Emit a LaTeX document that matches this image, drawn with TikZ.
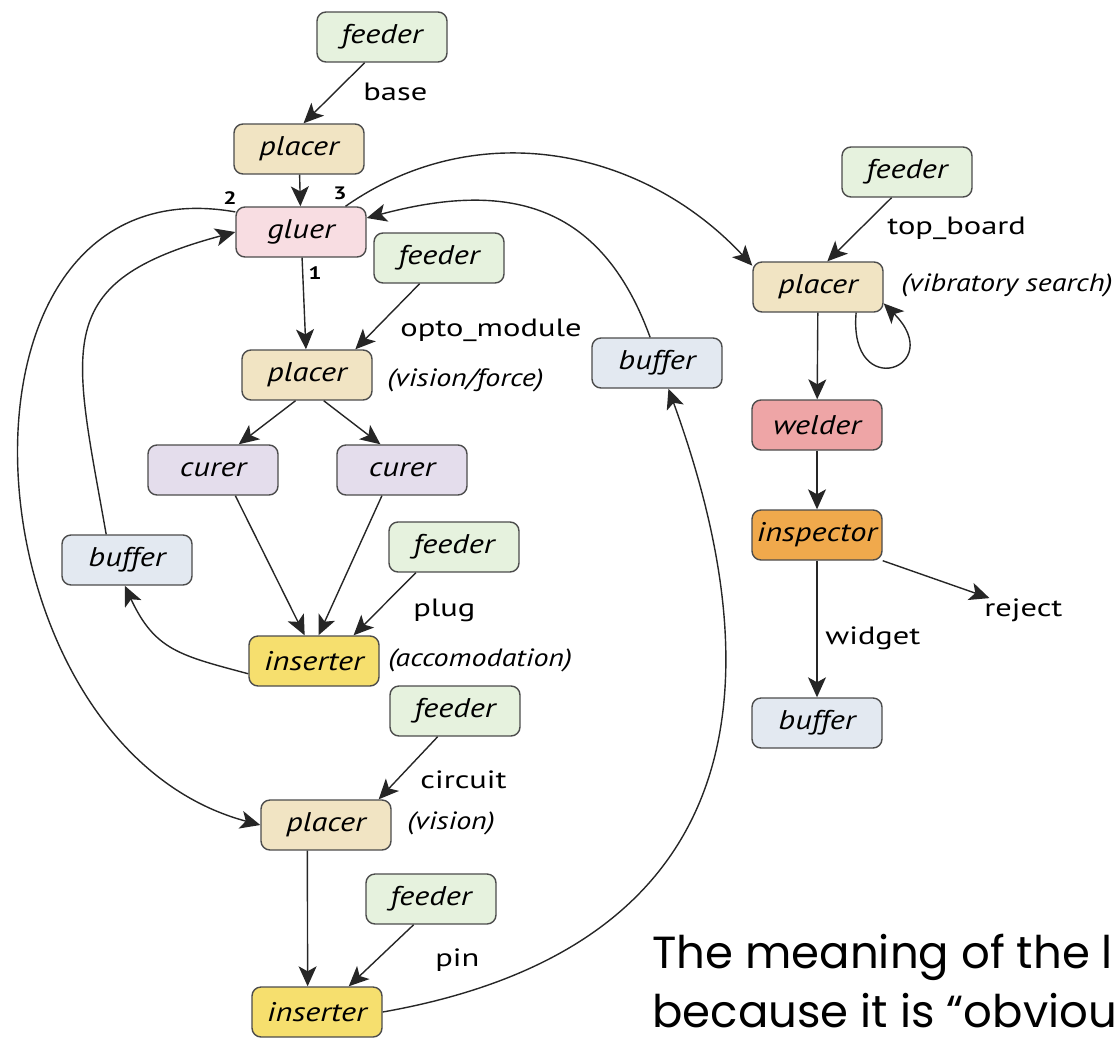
\documentclass[tikz,border=0pt]{standalone}
\usepackage{fontspec}
\setmainfont{PT Sans}[FakeStretch=1.3, ItalicFeatures={FakeStretch=1.2}]
\newfontfamily\notefont{Poppins}
\usetikzlibrary{arrows.meta}
\definecolor{feedc}{HTML}{E6F2DE}
\definecolor{placec}{HTML}{F1E4C3}
\definecolor{gluec}{HTML}{F8DDE2}
\definecolor{curec}{HTML}{E4DDEC}
\definecolor{bufc}{HTML}{E3E9F1}
\definecolor{insc}{HTML}{F6DF6E}
\definecolor{weldc}{HTML}{EEA5A6}
\definecolor{inspc}{HTML}{F0A94C}

\begin{document}
\begin{tikzpicture}
		[x=0.5pt, y=-0.5pt,
		block/.style ={rectangle, draw=black!70, line width=0.7pt, rounded corners=4.5pt, minimum width=65pt, minimum height=25pt, inner sep=0pt, font=\fontsize{13.5}{15}\selectfont\itshape},
		feedbox/.style ={block, fill=feedc},
		placebox/.style ={block, fill=placec},
		gluebox/.style ={block, fill=gluec},
		curebox/.style ={block, fill=curec},
		bufbox/.style ={block, fill=bufc},
		insbox/.style ={block, fill=insc},
		weldbox/.style ={block, fill=weldc},
		inspbox/.style ={block, fill=inspc},
		line/.style ={color=black!85, line width=0.7pt, -{Stealth[length=10pt,width=9pt,inset=2.5pt]}},
		lbl/.style ={inner sep=0pt, anchor=west, font=\fontsize{12.5}{14}\selectfont},
		hint/.style ={lbl, font=\fontsize{12.5}{14}\selectfont\itshape},
		port/.style ={inner sep=0pt, font=\fontsize{9}{10}\selectfont\bfseries},
		note/.style ={inner sep=0pt, anchor=base west, font=\notefont\fontsize{22.5}{26}\selectfont},
		]

		\clip (0,0) rectangle (1119,1039);

		\draw (382,37) node[feedbox] (F1) {feeder};
		\draw (299,149) node[placebox] (P1) {placer};
		\draw (301,232) node[gluebox] (G) {gluer};
		\draw (439,258) node[feedbox] (F2) {feeder};
		\draw (307,375) node[placebox] (P2) {placer};
		\draw (213,470) node[curebox] (C1) {curer};
		\draw (402,470) node[curebox] (C2) {curer};
		\draw (127,560) node[bufbox] (BL) {buffer};
		\draw (454,547) node[feedbox] (F3) {feeder};
		\draw (314,661) node[insbox] (I1) {inserter};
		\draw (455,711) node[feedbox] (F4) {feeder};
		\draw (326,825) node[placebox] (P3) {placer};
		\draw (431,899) node[feedbox] (F5) {feeder};
		\draw (317,1012) node[insbox] (I2) {inserter};
		\draw (657,363) node[bufbox] (BM) {buffer};
		\draw (907,172) node[feedbox] (FR) {feeder};
		\draw (818,287) node[placebox] (PR) {placer};
		\draw (817,425) node[weldbox] (W) {welder};
		\draw (817,535) node[inspbox] (IN) {inspector};
		\draw (817,723) node[bufbox] (BR) {buffer};
		\draw (972,610) node[lbl, inner xsep=6pt] (RJ) {reject};

		\draw (363,92) node[lbl] {base};
		\draw (400,330) node[lbl] {opto\_module};
		\draw (387,380) node[hint] {(vision/force)};
		\draw (413,610) node[lbl] {plug};
		\draw (388,660) node[hint] {(accomodation)};
		\draw (420,780) node[lbl] {circuit};
		\draw (407,823) node[hint] {(vision)};
		\draw (435,960) node[lbl] {pin};
		\draw (887,228) node[lbl] {top\_board};
		\draw (901,285) node[hint] {(vibratory search)};
		\draw (825,638) node[lbl] {widget};
		\draw (230,198) node[port] {2};
		\draw (340,193) node[port] {3};
		\draw (315,273) node[port] {1};

		\path[line]
		(F1.236) edge (P1.80)
		(P1) edge (G)
		(G) edge (P2)
		(F2.233) edge (P2.28)
		(P2.246) edge (C1.45)
		(P2.303) edge (C2.130)
		(C1.311) edge (I1.110)
		(C2.232) edge (I1.80)
		(F3.214) edge (I1.33)
		(I1.191) edge[out=165,in=-65,looseness=1.2] (BL.265)
		(BL.129) edge[out=100,in=195,looseness=1.5] (G.west)
		(G.163) edge[out=170,in=165,looseness=1.3] (P3.west)
		(F4.236) edge (P3.26)
		(P3.234) edge (I2.110)
		(F5.236) edge (I2.39)
		(I2.east) edge[out=10,in=-70,looseness=1.3] (BM.294)
		(BM.105) edge[out=110,in=15,looseness=1.2] (G.12)
		(G.30) edge[out=35,in=133] (PR.162)
		(FR.239) edge (PR.70)
		(PR.326) edge[out=-95,in=-45,looseness=8] (PR.346)
		(PR) edge (W)
		(W) edge (IN)
		(IN) edge (BR)
		(IN.south east) edge (RJ);

		\draw (652,968) node[note] (T1) {The meaning of the l};
		\draw (652,1027) node[note] (T2) {because it is “obviou};
	\end{tikzpicture}
\end{document}
